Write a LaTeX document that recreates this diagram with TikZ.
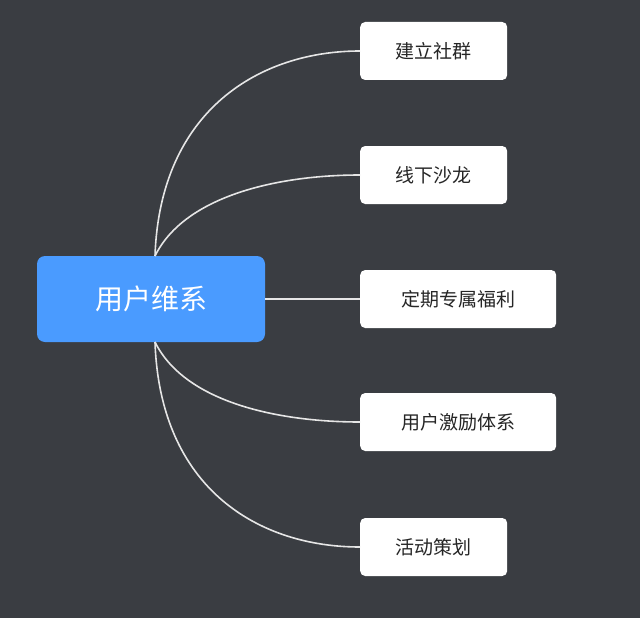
\documentclass[tikz,border=0pt]{standalone}
\usepackage{fontspec}
\setmainfont{Noto Sans CJK SC}
\definecolor{bgdark}{HTML}{3A3D42}
\definecolor{rootblue}{HTML}{4A9BFF}
\definecolor{linegray}{HTML}{E6E6E6}
\tikzset{
  rootbox/.style={fill=rootblue, rounded corners=8pt, text=white, minimum width=228pt, minimum height=86pt, font=\fontsize{28}{30}\selectfont},
  leafbox/.style={fill=white, rounded corners=5pt, text=black!85, minimum height=58pt, anchor=west, font=\fontsize{19}{21}\selectfont},
  link/.style={linegray, line width=1.6pt}
}
\begin{document}
\begin{tikzpicture}[x=1pt,y=-1pt]
        \fill[bgdark] (0,0) rectangle (640,618);
        \useasboundingbox (0,0) rectangle (640,618);

        \node[rootbox] (root) at (151,299) {用户维系};

        \node[leafbox, minimum width=147pt] (n1) at (360,51) {建立社群};
        \node[leafbox, minimum width=147pt] (n2) at (360,175) {线下沙龙};
        \node[leafbox, minimum width=196pt] (n3) at (360,299) {定期专属福利};
        \node[leafbox, minimum width=196pt] (n4) at (360,422) {用户激励体系};
        \node[leafbox, minimum width=147pt] (n5) at (360,547) {活动策划};

        \coordinate (top) at (155,256);
        \coordinate (bot) at (155,342);

        \draw[link] (top) .. controls (160,110) and (260,51) .. (n1.west);
        \draw[link] (top) .. controls (185,195) and (280,175) .. (n2.west);
        \draw[link] (root.east) -- (n3.west);
        \draw[link] (bot) .. controls (185,403) and (280,422) .. (n4.west);
        \draw[link] (bot) .. controls (160,490) and (260,547) .. (n5.west);
\end{tikzpicture}
\end{document}
